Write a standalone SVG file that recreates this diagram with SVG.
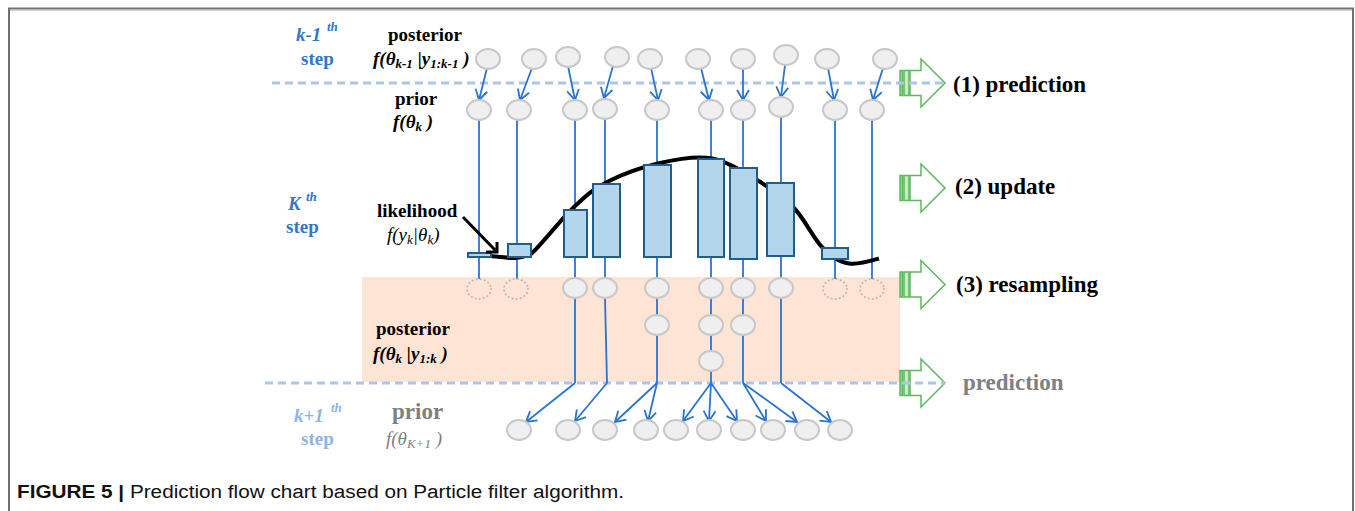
<svg xmlns="http://www.w3.org/2000/svg" xmlns:xlink="http://www.w3.org/1999/xlink" width="1355" height="511" viewBox="0 0 1355 511">
<style>
.nd ellipse{fill:#efefef;stroke:#c8c8c8;stroke-width:2}
.ghost{fill:none;stroke:#b8b8b8;stroke-width:2;stroke-dasharray:0.1 4;stroke-linecap:round}
.bar{fill:#b4d6ec;stroke:#1f5d8c;stroke-width:2}
.conn line,.conn path{stroke:#2a74cf;stroke-width:1.8;fill:none}
.conn .a{marker-end:url(#ah)}
.dash{stroke:#aac6ec;stroke-width:3;stroke-dasharray:8 5}
.ser{font-family:"Liberation Serif","Times New Roman",serif}
.b{font-weight:bold}
.i{font-style:italic}
.f19{font-size:19px}
.f23{font-size:23px}
.sub{font-size:13px}
.blue{fill:#2f78c8}
.lblue{fill:#8db4e3}
.gray{fill:#808080}
.garr polygon,.garr rect{stroke:#5cb85c;stroke-width:1.5}
</style>
<defs>
<marker id="ah" markerUnits="userSpaceOnUse" markerWidth="14" markerHeight="16" refX="11" refY="7" orient="auto">
<path d="M1,1 L11,7 L1,13" fill="none" stroke="#2a74cf" stroke-width="1.8"/>
</marker>
<g id="garrow" class="garr">
<rect x="-45" y="-12.5" width="2.5" height="25" fill="#9fd89f"/>
<rect x="-41" y="-12.5" width="5" height="25" fill="#c8ecc8"/>
<polygon points="-35,-12.5 -24,-12.5 -24,-24 0,0 -24,24 -24,12.5 -35,12.5" fill="#ffffff"/>
</g>
</defs>

<rect width="1355" height="511" fill="#ffffff"/>
<path d="M9,511 L9,8.5 L1353,8.5 L1353,511" fill="none" stroke="#707070" stroke-width="2"/>
<line x1="10" y1="10.5" x2="1352" y2="10.5" stroke="#d0d0d0" stroke-width="1"/>

<rect id="posterior-band" x="362" y="277" width="538" height="105" fill="#fde4d4"/>

<g id="green-arrows">
<use xlink:href="#garrow" x="945" y="83"/>
<use xlink:href="#garrow" x="945" y="188"/>
<use xlink:href="#garrow" x="945" y="284.5"/>
<use xlink:href="#garrow" x="945" y="383"/>
</g>

<line class="dash" x1="272" y1="83" x2="945" y2="83"/>
<line class="dash" x1="265" y1="383" x2="945" y2="383"/>

<g id="connectors" class="conn">
<line class="a" x1="487" y1="68" x2="479" y2="100"/>
<line class="a" x1="532" y1="68" x2="520" y2="100"/>
<line class="a" x1="568" y1="66" x2="575" y2="100"/>
<line class="a" x1="613" y1="66" x2="604" y2="98"/>
<line class="a" x1="651" y1="68" x2="658" y2="100"/>
<line class="a" x1="701" y1="68" x2="709" y2="100"/>
<line class="a" x1="743" y1="68" x2="743" y2="100"/>
<line class="a" x1="785" y1="65" x2="781" y2="97"/>
<line class="a" x1="828" y1="68" x2="834" y2="100"/>
<line class="a" x1="883" y1="68" x2="873" y2="100"/>
<line x1="479" y1="120" x2="479" y2="279"/>
<line x1="517" y1="120" x2="517" y2="279"/>
<line x1="575" y1="120" x2="575" y2="278"/>
<line x1="605" y1="119" x2="605" y2="278"/>
<line x1="657" y1="120" x2="657" y2="278"/>
<line x1="711" y1="120" x2="711" y2="278"/>
<line x1="743" y1="120" x2="743" y2="278"/>
<line x1="781" y1="117" x2="781" y2="278"/>
<line x1="835" y1="120" x2="835" y2="279"/>
<line x1="872" y1="120" x2="872" y2="279"/>
<line x1="575" y1="298" x2="575" y2="383"/>
<line x1="605" y1="298" x2="607" y2="383"/>
<line x1="657" y1="298" x2="657" y2="383"/>
<line x1="711" y1="298" x2="711" y2="383"/>
<line x1="743" y1="298" x2="743" y2="383"/>
<line x1="781" y1="298" x2="781" y2="383"/>
<line class="a" x1="575" y1="383" x2="526" y2="422"/>
<line class="a" x1="607" y1="383" x2="575" y2="421"/>
<line class="a" x1="657" y1="383" x2="615" y2="422"/>
<line class="a" x1="657" y1="383" x2="648" y2="421"/>
<line class="a" x1="711" y1="383" x2="683" y2="421"/>
<line class="a" x1="711" y1="383" x2="709" y2="421"/>
<line class="a" x1="711" y1="383" x2="737" y2="421"/>
<line class="a" x1="743" y1="383" x2="766" y2="421"/>
<line class="a" x1="743" y1="383" x2="797" y2="422"/>
<line class="a" x1="781" y1="383" x2="831" y2="422"/>
</g>

<g id="likelihood-curve">
<path d="M490,256 C494.2,256.3 508.2,258.3 515,258 C521.8,257.7 524,257 531,254 C540.7,245.7 560.3,220 573,208 C585.7,196 592.5,189.5 607,182 C621.5,174.5 642.8,167 660,163 C677.2,159 695.8,155.5 712,158.5 C727,161.3 743,171.7 757,180 C771,188.3 783.2,196.8 794,208 C804.8,219.2 813,237.8 822,247 C831,256.2 838.5,262 849,263.5 C858,265 873.8,260 879,258.5" fill="none" stroke="#000000" stroke-width="4"/>
</g>

<g id="likelihood-bars">
<rect id="bar1" class="bar" x="468" y="253" width="23" height="4"/>
<rect id="bar2" class="bar" x="508" y="244" width="23" height="13"/>
<rect id="bar3" class="bar" x="564" y="210" width="23" height="47"/>
<rect id="bar4" class="bar" x="593" y="184" width="27" height="73"/>
<rect id="bar5" class="bar" x="644" y="165" width="27" height="92"/>
<rect id="bar6" class="bar" x="698" y="159" width="26" height="98"/>
<rect id="bar7" class="bar" x="730" y="168" width="27" height="91"/>
<rect id="bar8" class="bar" x="767" y="183" width="27" height="73"/>
<rect id="bar9" class="bar" x="822" y="248" width="26" height="11"/>
</g>

<g id="likelihood-pointer">
<line x1="463" y1="217" x2="496" y2="251" stroke="#000" stroke-width="3"/>
<path d="M486,252 L497,252 L497,242" fill="none" stroke="#000" stroke-width="3"/>
</g>

<g id="pk1-1" class="nd"><ellipse cx="488" cy="59" rx="12" ry="10"/></g>
<g id="pk1-2" class="nd"><ellipse cx="534" cy="59" rx="12" ry="10"/></g>
<g id="pk1-3" class="nd"><ellipse cx="568" cy="57" rx="12" ry="10"/></g>
<g id="pk1-4" class="nd"><ellipse cx="617" cy="57" rx="12" ry="10"/></g>
<g id="pk1-5" class="nd"><ellipse cx="650" cy="59" rx="12" ry="10"/></g>
<g id="pk1-6" class="nd"><ellipse cx="698" cy="59" rx="12" ry="10"/></g>
<g id="pk1-7" class="nd"><ellipse cx="743" cy="59" rx="12" ry="10"/></g>
<g id="pk1-8" class="nd"><ellipse cx="786" cy="55" rx="12" ry="10"/></g>
<g id="pk1-9" class="nd"><ellipse cx="827" cy="59" rx="12" ry="10"/></g>
<g id="pk1-10" class="nd"><ellipse cx="885" cy="59" rx="12" ry="10"/></g>

<g id="pr-1" class="nd"><ellipse cx="479" cy="110" rx="12" ry="10"/></g>
<g id="pr-2" class="nd"><ellipse cx="519" cy="110" rx="12" ry="10"/></g>
<g id="pr-3" class="nd"><ellipse cx="575" cy="110" rx="12" ry="10"/></g>
<g id="pr-4" class="nd"><ellipse cx="605" cy="109" rx="12" ry="10"/></g>
<g id="pr-5" class="nd"><ellipse cx="657" cy="110" rx="12" ry="10"/></g>
<g id="pr-6" class="nd"><ellipse cx="711" cy="110" rx="12" ry="10"/></g>
<g id="pr-7" class="nd"><ellipse cx="743" cy="110" rx="12" ry="10"/></g>
<g id="pr-8" class="nd"><ellipse cx="781" cy="107" rx="12" ry="10"/></g>
<g id="pr-9" class="nd"><ellipse cx="835" cy="110" rx="12" ry="10"/></g>
<g id="pr-10" class="nd"><ellipse cx="872" cy="110" rx="12" ry="10"/></g>

<g id="rs-gone-1"><ellipse class="ghost" cx="479" cy="289" rx="12" ry="10"/></g>
<g id="rs-gone-2"><ellipse class="ghost" cx="516" cy="289" rx="12" ry="10"/></g>
<g id="rs-gone-3"><ellipse class="ghost" cx="835" cy="289" rx="12" ry="10"/></g>
<g id="rs-gone-4"><ellipse class="ghost" cx="872" cy="289" rx="12" ry="10"/></g>
<g id="rs-1" class="nd"><ellipse cx="575" cy="288" rx="12" ry="10"/></g>
<g id="rs-2" class="nd"><ellipse cx="605" cy="288" rx="12" ry="10"/></g>
<g id="rs-3" class="nd"><ellipse cx="657" cy="288" rx="12" ry="10"/></g>
<g id="rs-4" class="nd"><ellipse cx="711" cy="288" rx="12" ry="10"/></g>
<g id="rs-5" class="nd"><ellipse cx="743" cy="288" rx="12" ry="10"/></g>
<g id="rs-6" class="nd"><ellipse cx="781" cy="288" rx="12" ry="10"/></g>
<g id="rs-7" class="nd"><ellipse cx="657" cy="325" rx="12" ry="10"/></g>
<g id="rs-8" class="nd"><ellipse cx="711" cy="325" rx="12" ry="10"/></g>
<g id="rs-9" class="nd"><ellipse cx="743" cy="325" rx="12" ry="10"/></g>
<g id="rs-10" class="nd"><ellipse cx="711" cy="361" rx="12" ry="10"/></g>

<g id="pn-1" class="nd"><ellipse cx="519" cy="430" rx="12" ry="10"/></g>
<g id="pn-2" class="nd"><ellipse cx="568" cy="430" rx="12" ry="10"/></g>
<g id="pn-3" class="nd"><ellipse cx="605" cy="430" rx="12" ry="10"/></g>
<g id="pn-4" class="nd"><ellipse cx="646" cy="430" rx="12" ry="10"/></g>
<g id="pn-5" class="nd"><ellipse cx="676" cy="430" rx="12" ry="10"/></g>
<g id="pn-6" class="nd"><ellipse cx="709" cy="430" rx="12" ry="10"/></g>
<g id="pn-7" class="nd"><ellipse cx="743" cy="430" rx="12" ry="10"/></g>
<g id="pn-8" class="nd"><ellipse cx="773" cy="430" rx="12" ry="10"/></g>
<g id="pn-9" class="nd"><ellipse cx="807" cy="430" rx="12" ry="10"/></g>
<g id="pn-10" class="nd"><ellipse cx="840" cy="430" rx="12" ry="10"/></g>

<g id="labels" class="ser">
<text class="b i f19 blue" x="296" y="41">k-1</text>
<text class="b i sub blue" x="327" y="31">th</text>
<text class="b f19 blue" x="301" y="65">step</text>
<text class="b f19" x="388" y="41">posterior</text>
<text class="b i f19" x="373" y="65">f(θ<tspan class="sub" dy="3">k-1</tspan><tspan dy="-3"> |y</tspan><tspan class="sub" dy="3">1:k-1</tspan><tspan dy="-3"> )</tspan></text>
<text class="b f19" x="395" y="105">prior</text>
<text class="b i f19" x="393" y="128">f(θ<tspan class="sub" dy="3">k</tspan><tspan dy="-3"> )</tspan></text>

<text class="b i f19 blue" x="288" y="210">K</text>
<text class="b i sub blue" x="306" y="201">th</text>
<text class="b f19 blue" x="286" y="233">step</text>
<text class="b f19" x="377" y="217">likelihood</text>
<text class="i f19" x="387" y="241">f(y<tspan class="sub" dy="3">k</tspan><tspan dy="-3">|θ</tspan><tspan class="sub" dy="3">k</tspan><tspan dy="-3">)</tspan></text>

<text class="b f19" x="376" y="335">posterior</text>
<text class="b i f19" x="373" y="360">f(θ<tspan class="sub" dy="3">k</tspan><tspan dy="-3"> |y</tspan><tspan class="sub" dy="3">1:k</tspan><tspan dy="-3"> )</tspan></text>

<text class="b i f19 lblue" x="294" y="422">k+1</text>
<text class="b i sub lblue" x="331" y="412">th</text>
<text class="b f19 lblue" x="301" y="445">step</text>
<text class="b f23 gray" x="392" y="419">prior</text>
<text class="i f19 gray" x="386" y="445">f(θ<tspan class="sub" dy="3">K+1</tspan><tspan dy="-3"> )</tspan></text>

<text class="b f23" x="953" y="92">(1) prediction</text>
<text class="b f23" x="955" y="194">(2) update</text>
<text class="b f23" x="956" y="292">(3) resampling</text>
<text class="b f23 gray" x="963" y="390">prediction</text>
</g>

<text id="caption" x="17" y="498" font-family="'Liberation Sans Narrow','Liberation Sans',Arial,sans-serif" font-size="18" fill="#111111" textLength="607" lengthAdjust="spacingAndGlyphs"><tspan font-weight="bold">FIGURE 5 | </tspan>Prediction flow chart based on Particle filter algorithm.</text>
</svg>
